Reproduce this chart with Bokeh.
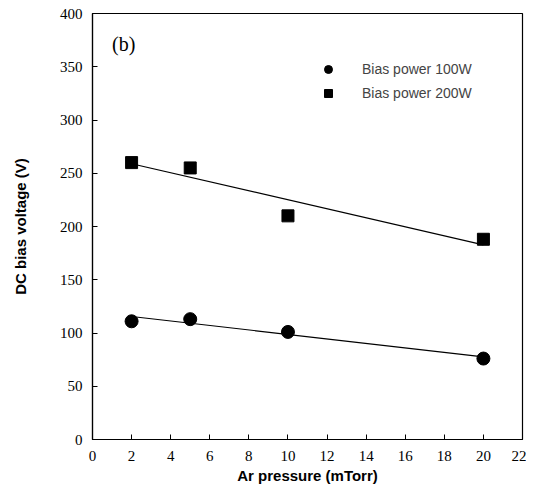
import numpy as np
from bokeh.plotting import figure
from bokeh.models import Legend, LegendItem, Label, FixedTicker
from bokeh.embed import file_html
from bokeh.resources import INLINE

pressure = [2, 5, 10, 20]
bias_100w = [111, 113, 101, 76]
bias_200w = [260, 255, 210, 188]
x_ticks = list(range(0, 23, 2))
y_ticks = list(range(0, 401, 50))

p = figure(width=526, height=486, output_backend="svg", toolbar_location=None,
           x_range=(0, 22), y_range=(0, 400),
           min_border_left=92, min_border_right=4, min_border_top=13, min_border_bottom=46)
p.background_fill_color = "white"
p.border_fill_color = "white"
p.outline_line_color = "black"
p.outline_line_width = 1.2
p.xgrid.visible = False
p.ygrid.visible = False

serif = "Liberation Serif"
sans = "Liberation Sans"

for ax, ticks in ((p.xaxis[0], x_ticks), (p.yaxis[0], y_ticks)):
    ax.ticker = FixedTicker(ticks=ticks)
    ax.major_tick_in = 5
    ax.major_tick_out = 0
    ax.minor_tick_line_color = None
    ax.axis_line_width = 1.2
    ax.major_label_text_font = serif
    ax.major_label_text_font_size = "15px"
    ax.major_label_text_color = "black"
    ax.axis_label_text_font = sans
    ax.axis_label_text_font_style = "bold"
    ax.axis_label_text_font_size = "15px"
    ax.axis_label_text_color = "black"

p.xaxis.axis_label = "Ar pressure (mTorr)"
p.yaxis.axis_label = "DC bias voltage (V)"
p.xaxis.major_label_standoff = 11
p.yaxis.major_label_standoff = 10
p.xaxis.axis_label_standoff = 3
p.yaxis.axis_label_standoff = 28

# linear fits
xs = np.array([2, 20])
c1 = np.polyfit(pressure, bias_100w, 1)
c2 = np.polyfit(pressure, bias_200w, 1)
p.line(xs, np.polyval(c1, xs), line_color="black", line_width=1.2)
p.line(xs, np.polyval(c2, xs), line_color="black", line_width=1.2)

r1 = p.scatter(pressure, bias_100w, marker="circle", size=13, fill_color="black", line_color="black")
r2 = p.scatter(pressure, bias_200w, marker="square", size=12, fill_color="black", line_color="black")

legend = Legend(items=[LegendItem(label="Bias power 100W", renderers=[r1]),
                       LegendItem(label="Bias power 200W", renderers=[r2])],
                location=(226, 336), border_line_color=None, background_fill_alpha=0,
                label_text_font=sans, label_text_font_size="14px",
                glyph_width=20, label_standoff=24, spacing=4, padding=4)
p.add_layout(legend, "center")

p.add_layout(Label(x=1.0, y=371, text="(b)", text_font=serif, text_font_size="20px",
                   text_baseline="middle", text_color="black"))

open("out.html", "w").write(file_html(p, INLINE))
